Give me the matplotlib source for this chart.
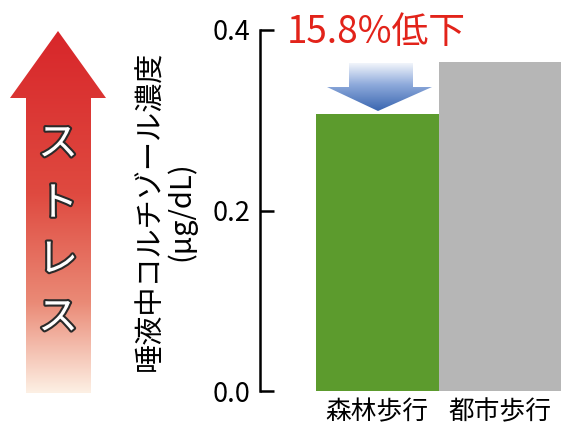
import numpy as np
import matplotlib.pyplot as plt
from matplotlib.patches import Polygon
from matplotlib.colors import LinearSegmentedColormap
import matplotlib.patheffects as pe

plt.rcParams['font.family'] = ['Noto Sans CJK JP', 'DejaVu Sans']

categories = ['森林歩行', '都市歩行']
values = [0.307, 0.365]
bar_colors = ['#5c9b2d', '#b6b6b6']
yticks = [0.0, 0.2, 0.4]
ytick_labels = ['0.0', '0.2', '0.4']
reduction_label = '15.8%低下'
ylabel = '唾液中コルチゾール濃度\n(μg/dL)'
stress_label = 'ストレス'

W, H = 563, 424
fig = plt.figure(figsize=(W / 100, H / 100), dpi=100)

# decoration layer in pixel coordinates
bg = fig.add_axes([0, 0, 1, 1], zorder=0)
bg.axis('off')


def gradient_arrow(ax, verts, colors):
    poly = Polygon(verts, closed=True, facecolor='none', edgecolor='none')
    ax.add_patch(poly)
    cmap = LinearSegmentedColormap.from_list('g', colors)
    grad = np.linspace(0, 1, 256).reshape(-1, 1)
    xs = [v[0] for v in verts]
    ys = [v[1] for v in verts]
    im = ax.imshow(grad, cmap=cmap, extent=[min(xs), max(xs), max(ys), min(ys)],
                   aspect='auto', interpolation='bicubic', origin='upper')
    im.set_clip_path(poly)


red_arrow = [(58, 31), (106, 98), (91, 98), (91, 393), (26, 393), (26, 98), (10, 98)]
gradient_arrow(bg, red_arrow, [(0.0, '#d8262a'), (0.45, '#df4a40'), (0.75, '#ea8a76'), (1.0, '#fdf0e4')])

blue_arrow = [(349, 63), (413, 63), (413, 87), (432, 87), (378, 111), (327, 87), (349, 87)]
gradient_arrow(bg, blue_arrow, [(0.0, '#f2f5fb'), (0.45, '#8eaadb'), (1.0, '#3a66b0')])

bg.set_xlim(0, W)
bg.set_ylim(H, 0)

char_y = [144, 204, 260, 318]
for ch, cy in zip(stress_label, char_y):
    bg.text(58, cy, ch, color='white', fontsize=29, ha='center', va='center',
            path_effects=[pe.Stroke(linewidth=3, foreground='#2a2a2a'), pe.Normal()])

# main chart
ax = fig.add_axes([260 / W, 33 / H, 303 / W, 361 / H], zorder=1)
ax.patch.set_visible(False)
x = np.arange(len(categories))
ax.bar(x, values, width=1.0, color=bar_colors)
ax.set_xlim(-0.957, 1.516)
ax.set_ylim(0, 0.4)
for s in ['top', 'right', 'bottom']:
    ax.spines[s].set_visible(False)
ax.spines['left'].set_linewidth(1.8)
ax.set_yticks(yticks)
ax.set_yticklabels(ytick_labels, fontsize=19.5)
ax.tick_params(axis='y', direction='in', length=10, width=1.8, pad=7)
ax.set_xticks(x)
ax.set_xticklabels(categories, fontsize=18.5)
ax.tick_params(axis='x', length=0, pad=6)

fig.text(166 / W, 1 - 211 / H, ylabel, rotation=90, ha='center', va='center',
         fontsize=21, multialignment='center', linespacing=1.05)

fig.text(376 / W, 1 - 32 / H, reduction_label, color='#e2231a', fontsize=26.5,
         ha='center', va='center')

fig.savefig('out.png', dpi=100)
